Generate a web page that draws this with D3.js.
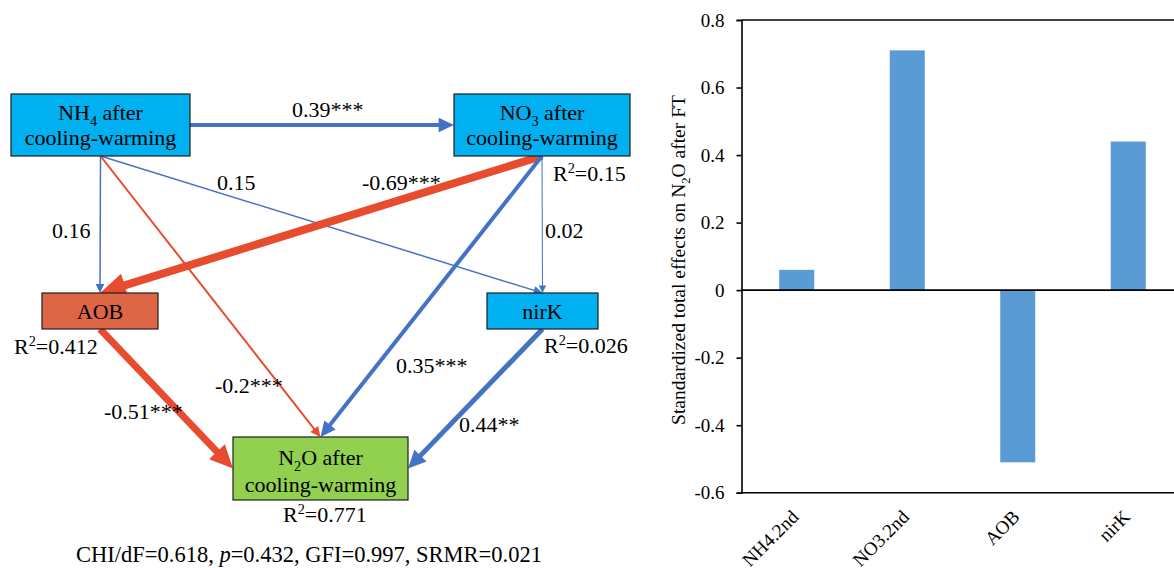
<!DOCTYPE html>
<html>
<head>
<meta charset="utf-8">
<script src="https://cdn.jsdelivr.net/npm/d3@7/dist/d3.min.js"></script>
</head>
<body style="margin:0">
<svg id="chart" width="1174" height="568" font-family="Liberation Serif" style="display:block;font-family:'Liberation Serif'"></svg>
<script>
// ---------------- DATA ----------------
// Path diagram
const nodeIds = ["NH4", "NO3", "AOB", "nirK", "N2O"];
const nodeLabels = [
  ["NH_4 after", "cooling-warming"],
  ["NO_3 after", "cooling-warming"],
  ["AOB"],
  ["nirK"],
  ["N_2O after", "cooling-warming"]
];
const nodeR2 = [null, 0.15, 0.412, 0.026, 0.771];

const edgeFrom = ["NH4", "NH4", "NH4", "NH4", "NO3", "NO3", "NO3", "AOB", "nirK"];
const edgeTo   = ["NO3", "AOB", "nirK", "N2O", "AOB", "nirK", "N2O", "N2O", "N2O"];
const pathCoef = [0.39, 0.16, 0.15, -0.2, -0.69, 0.02, 0.35, -0.51, 0.44];
const pathSig  = ["***", "", "", "***", "***", "", "***", "***", "**"];

const fitText = ["CHI/dF=0.618, ", "p", "=0.432, GFI=0.997, SRMR=0.021"];

// Bar chart
const categories = ["NH4.2nd", "NO3.2nd", "AOB", "nirK"];
const totalEffects = [0.06, 0.71, -0.51, 0.44];
const yTicks = [0.8, 0.6, 0.4, 0.2, 0, -0.2, -0.4, -0.6];
const yTitle = "Standardized total effects on N_2O after FT";

// ---------------- LAYOUT / STYLE ----------------
const FONT = "Liberation Serif";
const nodeBox = {
  NH4:  { x: 11,  y: 94,  w: 179, h: 62, fill: "#00B0F0" },
  NO3:  { x: 454, y: 94,  w: 176, h: 62, fill: "#00B0F0" },
  AOB:  { x: 42,  y: 293, w: 116, h: 36, fill: "#DD6647" },
  nirK: { x: 487, y: 293, w: 111, h: 36, fill: "#00B0F0" },
  N2O:  { x: 233, y: 437, w: 175, h: 63, fill: "#92D050" }
};
const nodeTextBase = { NH4: [120, 145], NO3: [120, 145], AOB: [319], nirK: [319], N2O: [465, 492] };
const r2Pos = { NO3: [553, 181], AOB: [14, 354], nirK: [544, 353], N2O: [283, 522] };

const edgeSrcSide = ["right", "bottom", "bottom", "bottom", "bottom", "bottom", "bottom", "bottom", "bottom"];
const edgeTgtSide = ["left", "top", "top", "top", "top", "top", "top", "left", "right"];
const edgeWidth = [4, 1.5, 1.5, 2, 8, 1, 4, 7, 5];
const edgeLabelPos = [[292, 117], [52, 238], [217, 190], [215, 393], [362, 190], [545, 238], [396, 373], [104, 419], [459, 432]];

const BLUE = "#4472C4", RED = "#E84C2F";
const FS = 22;

const svg = d3.select("#chart");

function mkText(parent) {
  return parent.append("text")
    .attr("font-family", FONT)
    .style("font-family", `"${FONT}"`)
    .attr("fill", "#000");
}

// rich text helper: _x = subscript, ^x = superscript (single char)
function richText(sel, str, fs) {
  const parts = str.split(/([_^].)/).filter(s => s.length);
  let shift = 0;
  parts.forEach(p => {
    if (p[0] === "_" || p[0] === "^") {
      const d = p[0] === "_" ? fs * 0.28 : -fs * 0.38;
      sel.append("tspan").attr("dy", d).attr("font-size", fs * 0.65).text(p[1]);
      shift = d;
    } else {
      const t = sel.append("tspan").text(p);
      if (shift) { t.attr("dy", -shift); shift = 0; }
    }
  });
}

function anchor(id, side) {
  const b = nodeBox[id];
  if (side === "top") return [b.x + b.w / 2, b.y];
  if (side === "bottom") return [b.x + b.w / 2, b.y + b.h];
  if (side === "left") return [b.x, b.y + b.h / 2];
  return [b.x + b.w, b.y + b.h / 2];
}

// ---------------- PATH DIAGRAM ----------------
const gEdges = svg.append("g");
const lineGen = d3.line();
pathCoef.forEach((c, i) => {
  const s = anchor(edgeFrom[i], edgeSrcSide[i]);
  const t = anchor(edgeTo[i], edgeTgtSide[i]);
  const w = edgeWidth[i];
  const col = c < 0 ? RED : BLUE;
  const dx = t[0] - s[0], dy = t[1] - s[1];
  const len = Math.hypot(dx, dy);
  const ux = dx / len, uy = dy / len, nx = -uy, ny = ux;
  const L = 5 + 2.6 * w, H = 2.5 + 1.2 * w;
  const end = [t[0] - ux * L * 0.8, t[1] - uy * L * 0.8];
  gEdges.append("path").attr("d", lineGen([s, end]))
    .attr("stroke", col).attr("stroke-width", w).attr("fill", "none");
  const bx = t[0] - ux * L, by = t[1] - uy * L;
  gEdges.append("path")
    .attr("d", lineGen([t, [bx + nx * H, by + ny * H], [bx - nx * H, by - ny * H]]) + "Z")
    .attr("fill", col);
});

// nodes
nodeIds.forEach((id, i) => {
  const b = nodeBox[id];
  svg.append("rect").attr("x", b.x).attr("y", b.y).attr("width", b.w).attr("height", b.h)
    .attr("fill", b.fill).attr("stroke", "#1e1e1e").attr("stroke-width", 1.2);
  nodeLabels[i].forEach((ln, j) => {
    const t = mkText(svg).attr("x", b.x + b.w / 2).attr("y", nodeTextBase[id][j])
      .attr("text-anchor", "middle").attr("font-size", FS);
    richText(t, ln, FS);
  });
  if (nodeR2[i] !== null) {
    const t = mkText(svg).attr("x", r2Pos[id][0]).attr("y", r2Pos[id][1]).attr("font-size", FS);
    richText(t, "R^2=" + nodeR2[i], FS);
  }
});

// edge labels
pathCoef.forEach((c, i) => {
  mkText(svg).attr("x", edgeLabelPos[i][0]).attr("y", edgeLabelPos[i][1])
    .attr("font-size", FS).text(String(c) + pathSig[i]);
});

// fit indices
const ft = mkText(svg).attr("x", 309).attr("y", 562).attr("text-anchor", "middle").attr("font-size", 22.5);
ft.append("tspan").text(fitText[0]);
ft.append("tspan").attr("font-style", "italic").text(fitText[1]);
ft.append("tspan").text(fitText[2]);

// ---------------- BAR CHART ----------------
const y = d3.scaleLinear().domain([-0.6, 0.8]).range([492.7, 20]);
const x = d3.scaleBand().domain(categories).range([741.5, 1183.5])
  .paddingInner(0.683).paddingOuter(0.3415);
const plotL = 741.5, plotR = 1183.5;

const gBar = svg.append("g");
gBar.selectAll("rect.bar").data(categories).enter().append("rect")
  .attr("class", "bar")
  .attr("x", d => x(d))
  .attr("width", x.bandwidth())
  .attr("y", (d, i) => y(Math.max(0, totalEffects[i])))
  .attr("height", (d, i) => Math.abs(y(totalEffects[i]) - y(0)))
  .attr("fill", "#5B9BD5");

// frame lines (top, zero axis, bottom)
[0.8, 0, -0.6].forEach(v => {
  gBar.append("line").attr("x1", plotL).attr("x2", plotR)
    .attr("y1", y(v)).attr("y2", y(v)).attr("stroke", "#000").attr("stroke-width", 1.6);
});

const yAxis = d3.axisLeft(y).tickValues(yTicks).tickSize(5).tickPadding(12)
  .tickFormat(d => String(d));
const ga = svg.append("g").attr("transform", `translate(${plotL},0)`).call(yAxis);
ga.attr("font-family", FONT).attr("font-size", 19);
ga.select(".domain").attr("stroke", "#000").attr("stroke-width", 1.6);
ga.selectAll(".tick line").attr("stroke", "#000").attr("stroke-width", 1.6);
ga.selectAll(".tick text").attr("font-family", FONT).style("font-family", `"${FONT}"`)
  .attr("font-size", 19).attr("fill", "#000");

// x labels (rotated)
categories.forEach(c => {
  mkText(svg)
    .attr("transform", `translate(${x(c) + x.bandwidth() / 2 + 3},518) rotate(-45)`)
    .attr("text-anchor", "end").attr("font-size", 19).text(c);
});

// y title
const yt = mkText(svg)
  .attr("transform", `translate(685,260) rotate(-90)`)
  .attr("text-anchor", "middle").attr("font-size", 19.5);
richText(yt, yTitle, 19.5);
</script>
</body>
</html>
